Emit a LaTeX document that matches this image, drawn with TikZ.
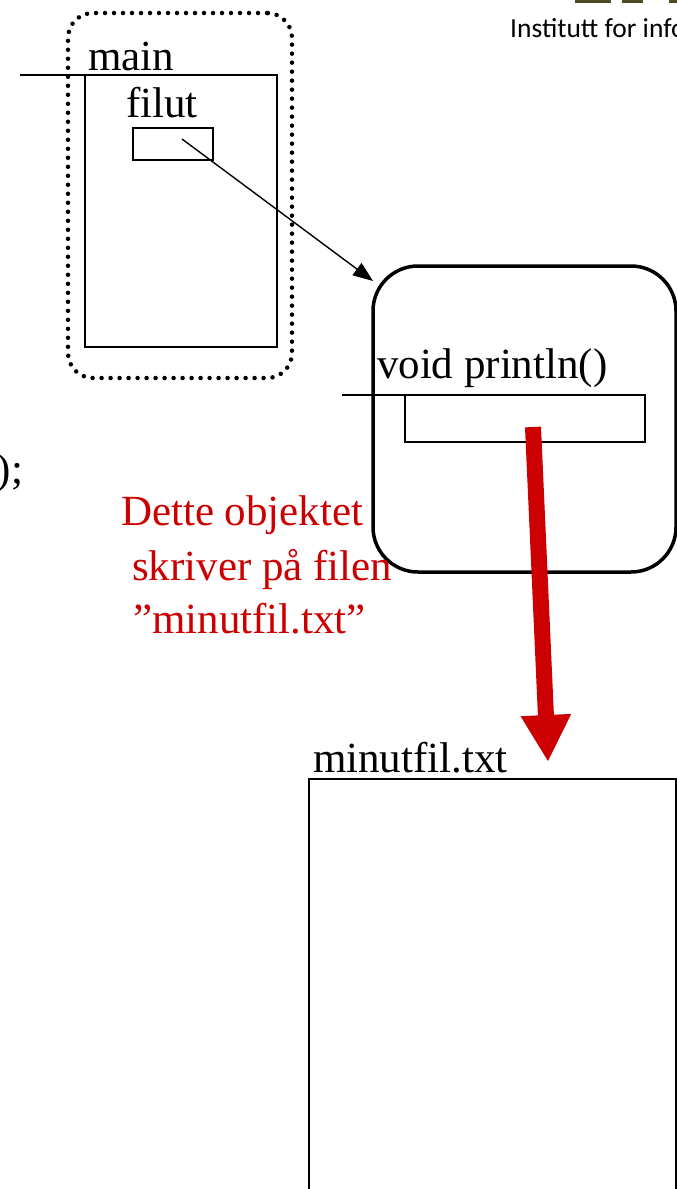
\documentclass[tikz,border=0pt]{standalone}
\usepackage{fontspec}
\setmainfont{Liberation Serif}
\newfontfamily\instfont{Carlito}
\usetikzlibrary{arrows.meta}
\definecolor{uiored}{RGB}{204,0,0}
\definecolor{logoolive}{RGB}{78,74,36}
\tikzset{
  lbl/.style={inner sep=0pt, outer sep=0pt, anchor=base west, font=\fontsize{43}{50}\selectfont},
  redlbl/.style={lbl, text=uiored},
  box/.style={draw, line width=2pt, inner sep=0pt, outer sep=0pt, anchor=north west},
  ptr/.style={line width=1.4pt, -{Triangle[length=20pt,width=15pt]}},
  writes/.style={draw=uiored, line width=16pt, -{Triangle[length=47pt,width=47pt]}, color=uiored}
}
\begin{document}
\begin{tikzpicture}[x=1pt,y=-1pt]
\useasboundingbox (0,0) rectangle (677,1189);
\clip (0,0) rectangle (677,1189);

% header fragment
\fill[logoolive] (575,0) rectangle (611,3);
\fill[logoolive] (622,0) rectangle (643,3);
\fill[logoolive] (669,0) rectangle (677,3);
\node[inner sep=0pt, anchor=base west, font=\instfont\fontsize{27.5}{30}\selectfont] (inst) at (510,37.5) {Institutt for info};

% method frame for main
\node[draw, line width=4.5pt, line cap=round, dash pattern=on 0pt off 9pt, rounded corners=25pt,
      minimum width=224pt, minimum height=365pt, inner sep=0pt, outer sep=0pt, anchor=north west] (frame) at (68,13) {};
\node[box, minimum width=192pt, minimum height=272pt] (mainbox) at (85,75) {};
\coordinate (mainlead) at (20,75);
\draw[line width=2pt] (mainlead) -- (mainbox.north west);
\node[lbl] (mainlbl) at (88,70.5) {main};
\node[lbl] (filutlbl) at (126,117) {filut};
\node[box, line width=1.6pt, minimum width=80pt, minimum height=32pt] (filut) at (133,128) {};

% object referred to by filut
\node[box, line width=3.5pt, rounded corners=45pt, minimum width=303pt, minimum height=306pt] (obj) at (373,266) {};
\node[lbl] (printlbl) at (377,378) {void println()};
\node[box, line width=1.8pt, minimum width=240pt, minimum height=47pt] (printbox) at (405,395) {};
\coordinate (printlead) at (342,395);
\draw[line width=1.8pt] (printlead) -- (printbox.north west);

\coordinate (ptrstart) at (182,139);
\coordinate (ptrend) at (373,281);
\draw[ptr] (ptrstart) -- (ptrend);

% the file
\node[lbl] (filelbl) at (313,772) {minutfil.txt};
\node[box, line width=2.5pt, minimum width=367pt, minimum height=440pt] (file) at (309,779) {};

\coordinate (wstart) at (533,427);
\coordinate (wend) at (548,762);
\draw[writes] (wstart) -- (wend);

% explanation
\node[redlbl] (note1) at (121,525) {Dette objektet};
\node[redlbl] (note2) at (132,580) {skriver på filen};
\node[redlbl] (note3) at (133,633) {”minutfil.txt”};

% end of a statement at the left edge
\node[lbl, anchor=base east] (tail) at (23,483) {);};
\end{tikzpicture}
\end{document}
